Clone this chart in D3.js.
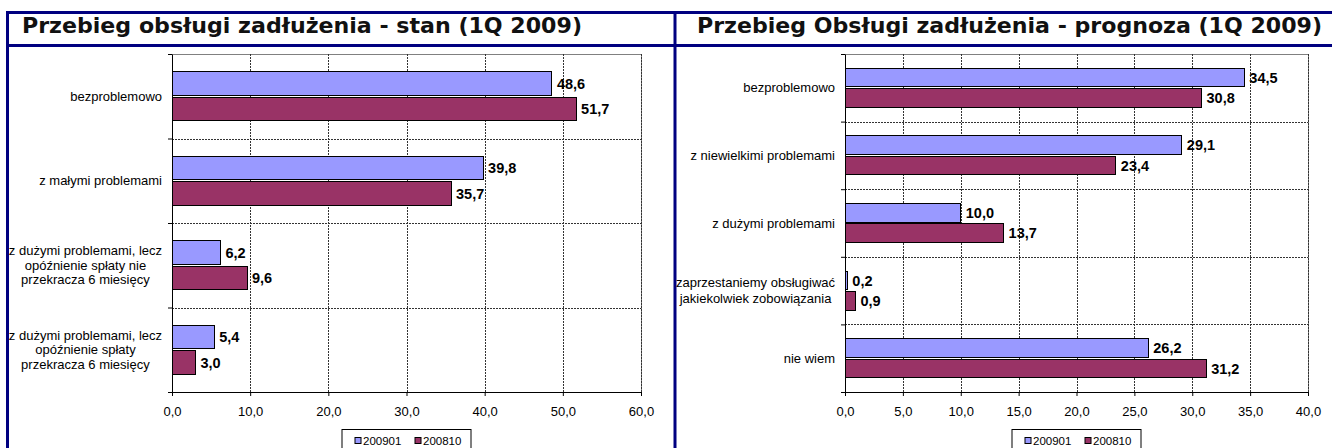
<!DOCTYPE html>
<html>
<head>
<meta charset="utf-8">
<script src="https://cdn.jsdelivr.net/npm/d3@7"></script>
<style>
  body { margin: 0; background: #fff; }
  svg { display: block; }
</style>
</head>
<body>
<div id="chart"></div>
<script>
const seriesNames = ['200901', '200810'];
const seriesColors = ['#9999ff', '#993366'];

// left panel: stan
const stateTitle = 'Przebieg obsługi zadłużenia - stan (1Q 2009)';
const stateCategories = [
  ['bezproblemowo'],
  ['z małymi problemami'],
  ['z dużymi problemami, lecz', 'opóźnienie spłaty nie', 'przekracza 6 miesięcy'],
  ['z dużymi problemami, lecz', 'opóźnienie spłaty', 'przekracza 6 miesięcy']
];
const state200901 = [48.6, 39.8, 6.2, 5.4];
const state200810 = [51.7, 35.7, 9.6, 3.0];
const stateTicks = [0, 10, 20, 30, 40, 50, 60];

// right panel: prognoza
const forecastTitle = 'Przebieg Obsługi zadłużenia - prognoza (1Q 2009)';
const forecastCategories = [
  ['bezproblemowo'],
  ['z niewielkimi problemami'],
  ['z dużymi problemami'],
  ['zaprzestaniemy obsługiwać', 'jakiekolwiek zobowiązania'],
  ['nie wiem']
];
const forecast200901 = [34.5, 29.1, 10.0, 0.2, 26.2];
const forecast200810 = [30.8, 23.4, 13.7, 0.9, 31.2];
const forecastTicks = [0, 5, 10, 15, 20, 25, 30, 35, 40];

const width = 1332, height = 448;
const navy = '#000080';
const font = "'Liberation Sans', Arial, sans-serif";
const fmt = d3.formatLocale({ decimal: ',', thousands: ' ', grouping: [3], currency: ['', ''] }).format('.1f');

const svg = d3.select('#chart').append('svg')
    .attr('width', width)
    .attr('height', height)
    .style('background', '#fff');

// navy frame: title band lines + panel dividers
svg.append('g')
    .attr('stroke', navy)
    .attr('stroke-width', 3)
  .selectAll('line')
  .data([[6, 12.5, width, 12.5], [6, 45.5, width, 45.5], [7.5, 11, 7.5, height], [675, 11, 675, height]])
  .join('line')
    .attr('x1', d => d[0]).attr('y1', d => d[1])
    .attr('x2', d => d[2]).attr('y2', d => d[3]);

function drawPanel(opts) {
  const { title, titleX, titleWidth, categories, series, ticks, left, right, top, bottom, lineH } = opts;

  const x = d3.scaleLinear().domain([0, d3.max(ticks)]).range([left, right]);
  const y = d3.scaleBand().domain(d3.range(categories.length)).range([top, bottom]);
  const ySeries = d3.scaleBand()
      .domain(seriesNames)
      .range([0, y.bandwidth()])
      .paddingInner(0.08)
      .paddingOuter(0.7);
  const yEdge = d3.scaleLinear().domain([0, categories.length]).range([top, bottom]);

  const g = svg.append('g');

  g.append('text')
      .attr('x', titleX)
      .attr('y', 33)
      .attr('font-family', "'DejaVu Sans Condensed', 'DejaVu Sans', sans-serif")
      .attr('font-weight', 'bold')
      .attr('font-size', 21)
      .attr('fill', '#111')
      .attr('textLength', titleWidth)
      .attr('lengthAdjust', 'spacingAndGlyphs')
      .text(title);

  // plot area border
  g.append('rect')
      .attr('x', left + 0.5)
      .attr('y', top + 0.5)
      .attr('width', right - left)
      .attr('height', bottom - top)
      .attr('fill', 'none')
      .attr('stroke', '#808080');

  // grid
  const grid = g.append('g')
      .attr('stroke', '#333')
      .attr('stroke-dasharray', '2,1');
  grid.selectAll('line.v')
    .data(ticks.slice(1))
    .join('line')
      .attr('class', 'v')
      .attr('x1', d => Math.round(x(d)) + 0.5)
      .attr('x2', d => Math.round(x(d)) + 0.5)
      .attr('y1', top)
      .attr('y2', bottom);
  grid.selectAll('line.h')
    .data(d3.range(1, categories.length))
    .join('line')
      .attr('class', 'h')
      .attr('x1', left)
      .attr('x2', right)
      .attr('y1', d => Math.round(yEdge(d)) + 0.5)
      .attr('y2', d => Math.round(yEdge(d)) + 0.5);

  // bars
  series.forEach((values, s) => {
    const name = seriesNames[s];
    g.append('g')
        .attr('fill', seriesColors[s])
        .attr('stroke', '#000')
        .attr('shape-rendering', 'crispEdges')
      .selectAll('rect')
      .data(values)
      .join('rect')
        .attr('x', x(0))
        .attr('y', (d, i) => y(i) + ySeries(name))
        .attr('width', d => x(d) - x(0))
        .attr('height', ySeries.bandwidth());

    g.append('g')
        .attr('font-family', font)
        .attr('font-size', 14.5)
        .attr('font-weight', 'bold')
        .attr('fill', '#000')
      .selectAll('text')
      .data(values)
      .join('text')
        .attr('x', d => x(d) + 5)
        .attr('y', (d, i) => y(i) + ySeries(name) + ySeries.bandwidth() / 2)
        .attr('dy', '0.36em')
        .text(d => fmt(d));
  });

  // axes
  const xAxis = g.append('g')
      .attr('transform', `translate(0,${bottom})`)
      .call(d3.axisBottom(x).tickValues(ticks).tickFormat(fmt).tickSize(4).tickSizeOuter(0).tickPadding(11));
  xAxis.selectAll('text').attr('font-family', font).attr('font-size', 13).attr('fill', '#000');
  xAxis.select('.domain').attr('stroke', '#000');

  g.append('g')
      .attr('transform', `translate(${left},0)`)
      .call(d3.axisLeft(yEdge).tickValues(d3.range(categories.length + 1)).tickFormat('').tickSize(4).tickSizeOuter(0))
      .select('.domain').attr('stroke', '#000');

  // category labels, lines centred on each other, block right-aligned
  g.append('g')
      .attr('font-family', font)
      .attr('font-size', 13)
      .attr('fill', '#000')
    .selectAll('text')
    .data(categories)
    .join('text')
      .attr('text-anchor', 'middle')
      .each(function (lines, i) {
        const t = d3.select(this);
        const cy = y(i) + y.bandwidth() / 2;
        lines.forEach((line, k) => {
          t.append('tspan')
              .attr('y', cy + (k - (lines.length - 1) / 2) * lineH)
              .attr('dy', '0.36em')
              .text(line);
        });
        const maxW = d3.max(t.selectAll('tspan').nodes(), n => n.getComputedTextLength());
        t.selectAll('tspan').attr('x', left - 10 - maxW / 2);
      });

  // legend
  const cx = (left + right) / 2;
  const legend = g.append('g').attr('transform', `translate(${cx - 64.5},429.5)`);
  legend.append('rect')
      .attr('width', 129)
      .attr('height', 24)
      .attr('fill', '#fff')
      .attr('stroke', '#000');
  const item = legend.selectAll('g.item')
    .data(seriesNames)
    .join('g')
      .attr('class', 'item')
      .attr('transform', (d, i) => `translate(${13 + i * 60},0)`);
  item.append('rect')
      .attr('y', 8)
      .attr('width', 6)
      .attr('height', 6)
      .attr('fill', (d, i) => seriesColors[i])
      .attr('stroke', '#000');
  item.append('text')
      .attr('x', 8)
      .attr('y', 15.5)
      .attr('font-family', font)
      .attr('font-size', 11.5)
      .attr('fill', '#000')
      .text(d => d);
}

drawPanel({
  title: stateTitle, titleX: 22, titleWidth: 560,
  categories: stateCategories,
  series: [state200901, state200810],
  ticks: stateTicks,
  left: 172, right: 641, top: 54, bottom: 392, lineH: 14.5
});

drawPanel({
  title: forecastTitle, titleX: 697, titleWidth: 625,
  categories: forecastCategories,
  series: [forecast200901, forecast200810],
  ticks: forecastTicks,
  left: 845, right: 1308, top: 54, bottom: 392, lineH: 16
});
</script>
</body>
</html>
